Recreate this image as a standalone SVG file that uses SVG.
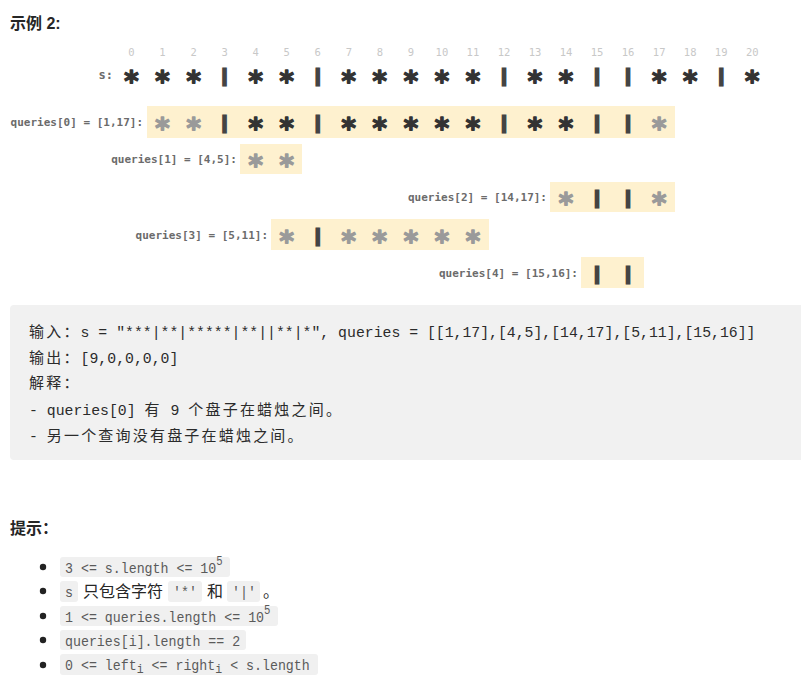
<svg xmlns="http://www.w3.org/2000/svg" width="801" height="690" viewBox="0 0 801 690">
<style>
.idx{font-family:"DejaVu Sans Mono",monospace;font-size:10.5px;fill:#c8c8c8;text-anchor:middle}
.lbl{font-family:"DejaVu Sans Mono",monospace;font-size:11px;font-weight:bold;fill:#6b6b6b;text-anchor:end}
.st{font-family:"DejaVu Sans Mono",monospace;font-size:28px;font-weight:bold;text-anchor:middle;fill:#333;stroke:#333;stroke-width:1.3;stroke-linejoin:round}
.st.g{fill:#9a9a9a;stroke:#9a9a9a}
.br{font-family:"DejaVu Sans Mono",monospace;font-size:15px;font-weight:bold;text-anchor:middle;fill:#444;stroke:#444;stroke-width:3}
.qbox{fill:#fef1cf}
.h{font-family:"Liberation Sans","Noto Sans CJK SC",sans-serif;font-size:16px;font-weight:bold;fill:#262626}
.code{font-family:"Liberation Mono","Noto Sans CJK SC",monospace;font-size:14.8px;fill:#2b2b2b}
.cj{font-family:"Noto Sans CJK SC",sans-serif;font-size:15px;letter-spacing:2.2px}
.ic{fill:#f0f0f0}
.ict{font-family:"Liberation Mono",monospace;font-size:15px;fill:#5a5a5a}
.cn{font-family:"Noto Sans CJK SC",sans-serif;font-size:16px;fill:#262626}
</style>
<text class="h" x="10" y="29">示例 2:</text>
<g id="indices">
<text class="idx" x="131.5" y="56">0</text><text class="idx" x="162.5" y="56">1</text><text class="idx" x="193.6" y="56">2</text><text class="idx" x="224.6" y="56">3</text><text class="idx" x="255.7" y="56">4</text><text class="idx" x="286.7" y="56">5</text><text class="idx" x="317.7" y="56">6</text><text class="idx" x="348.8" y="56">7</text><text class="idx" x="379.8" y="56">8</text><text class="idx" x="410.9" y="56">9</text><text class="idx" x="441.9" y="56">10</text><text class="idx" x="472.9" y="56">11</text><text class="idx" x="504" y="56">12</text><text class="idx" x="535" y="56">13</text><text class="idx" x="566" y="56">14</text><text class="idx" x="597.1" y="56">15</text><text class="idx" x="628.1" y="56">16</text><text class="idx" x="659.2" y="56">17</text><text class="idx" x="690.2" y="56">18</text><text class="idx" x="721.2" y="56">19</text><text class="idx" x="752.3" y="56">20</text>
</g>
<g id="s-row">
<text class="lbl" x="113" y="79" style="font-size:12px">s:</text>
<text class="st" x="131.5" y="91">*</text><text class="st" x="162.5" y="91">*</text><text class="st" x="193.6" y="91">*</text><text class="br" x="224.6" y="81">|</text><text class="st" x="255.7" y="91">*</text><text class="st" x="286.7" y="91">*</text><text class="br" x="317.7" y="81">|</text><text class="st" x="348.8" y="91">*</text><text class="st" x="379.8" y="91">*</text><text class="st" x="410.9" y="91">*</text><text class="st" x="441.9" y="91">*</text><text class="st" x="472.9" y="91">*</text><text class="br" x="504" y="81">|</text><text class="st" x="535" y="91">*</text><text class="st" x="566" y="91">*</text><text class="br" x="597.1" y="81">|</text><text class="br" x="628.1" y="81">|</text><text class="st" x="659.2" y="91">*</text><text class="st" x="690.2" y="91">*</text><text class="br" x="721.2" y="81">|</text><text class="st" x="752.3" y="91">*</text>
</g>
<g id="query0">
<rect class="qbox" x="147" y="106" width="528" height="32"/>
<text class="lbl" x="143" y="126">queries[0] = [1,17]:</text>
<text class="st g" x="162.5" y="138">*</text><text class="st g" x="193.6" y="138">*</text><text class="br" x="224.6" y="128">|</text><text class="st" x="255.7" y="138">*</text><text class="st" x="286.7" y="138">*</text><text class="br" x="317.7" y="128">|</text><text class="st" x="348.8" y="138">*</text><text class="st" x="379.8" y="138">*</text><text class="st" x="410.9" y="138">*</text><text class="st" x="441.9" y="138">*</text><text class="st" x="472.9" y="138">*</text><text class="br" x="504" y="128">|</text><text class="st" x="535" y="138">*</text><text class="st" x="566" y="138">*</text><text class="br" x="597.1" y="128">|</text><text class="br" x="628.1" y="128">|</text><text class="st g" x="659.2" y="138">*</text>
</g>
<g id="query1">
<rect class="qbox" x="240" y="144" width="62" height="30"/>
<text class="lbl" x="237" y="163">queries[1] = [4,5]:</text>
<text class="st g" x="255.7" y="175">*</text><text class="st g" x="286.7" y="175">*</text>
</g>
<g id="query2">
<rect class="qbox" x="550" y="182" width="125" height="30"/>
<text class="lbl" x="547" y="201">queries[2] = [14,17]:</text>
<text class="st g" x="566" y="213">*</text><text class="br" x="597.1" y="203">|</text><text class="br" x="628.1" y="203">|</text><text class="st g" x="659.2" y="213">*</text>
</g>
<g id="query3">
<rect class="qbox" x="271" y="219" width="218" height="31"/>
<text class="lbl" x="268" y="239">queries[3] = [5,11]:</text>
<text class="st g" x="286.7" y="251">*</text><text class="br" x="317.7" y="241">|</text><text class="st g" x="348.8" y="251">*</text><text class="st g" x="379.8" y="251">*</text><text class="st g" x="410.9" y="251">*</text><text class="st g" x="441.9" y="251">*</text><text class="st g" x="472.9" y="251">*</text>
</g>
<g id="query4">
<rect class="qbox" x="581" y="257" width="63" height="31"/>
<text class="lbl" x="578" y="277">queries[4] = [15,16]:</text>
<text class="br" x="597.1" y="279">|</text><text class="br" x="628.1" y="279">|</text>
</g>
<g id="example">
<rect x="10" y="305" width="795" height="155" rx="4" fill="#f1f1f1"/>
<text class="code" x="29" y="337"><tspan class="cj">输入：</tspan>s = "***|**|*****|**||**|*", queries = [[1,17],[4,5],[14,17],[5,11],[15,16]]</text>
<text class="code" x="29" y="363"><tspan class="cj">输出：</tspan>[9,0,0,0,0]</text>
<text class="code" x="29" y="388"><tspan class="cj">解释：</tspan></text>
<text class="code" x="29" y="415">- queries[0] <tspan class="cj">有</tspan> 9 <tspan class="cj">个盘子在蜡烛之间。</tspan></text>
<text class="code" x="29" y="441">- <tspan class="cj">另一个查询没有盘子在蜡烛之间。</tspan></text>
</g>
<text class="h" x="10" y="534">提示：</text>
<g id="hints">
<circle cx="43" cy="567" r="3.2" fill="#222"/>
<circle cx="43" cy="591" r="3.2" fill="#222"/>
<circle cx="43" cy="616" r="3.2" fill="#222"/>
<circle cx="43" cy="640" r="3.2" fill="#222"/>
<circle cx="43" cy="665" r="3.2" fill="#222"/>
<rect class="ic" x="60" y="557" width="170" height="20" rx="3"/>
<text class="ict" transform="translate(65,573) scale(0.885,1)">3 &lt;= s.length &lt;= 10<tspan font-size="12" dy="-8">5</tspan></text>
<rect class="ic" x="60" y="581" width="18" height="21" rx="3"/>
<text class="ict" transform="translate(65,597) scale(0.885,1)">s</text>
<text class="cn" x="83" y="597">只包含字符</text>
<rect class="ic" x="168" y="581" width="34" height="21" rx="3"/>
<text class="ict" transform="translate(173,597) scale(0.885,1)">'*'</text>
<text class="cn" x="207" y="597">和</text>
<rect class="ic" x="227" y="581" width="33" height="21" rx="3"/>
<text class="ict" transform="translate(232,597) scale(0.885,1)">'|'</text>
<text class="cn" x="263" y="597">。</text>
<rect class="ic" x="60" y="606" width="218" height="20" rx="3"/>
<text class="ict" transform="translate(65,622) scale(0.885,1)">1 &lt;= queries.length &lt;= 10<tspan font-size="12" dy="-8">5</tspan></text>
<rect class="ic" x="60" y="630" width="186" height="20" rx="3"/>
<text class="ict" transform="translate(65,646) scale(0.885,1)">queries[i].length == 2</text>
<rect class="ic" x="60" y="654" width="258" height="21" rx="3"/>
<text class="ict" transform="translate(65,670) scale(0.885,1)">0 &lt;= left<tspan font-size="13" dy="3">i</tspan><tspan dy="-3"> &lt;= right</tspan><tspan font-size="13" dy="3">i</tspan><tspan dy="-3"> &lt; s.length</tspan></text>
</g>
</svg>
